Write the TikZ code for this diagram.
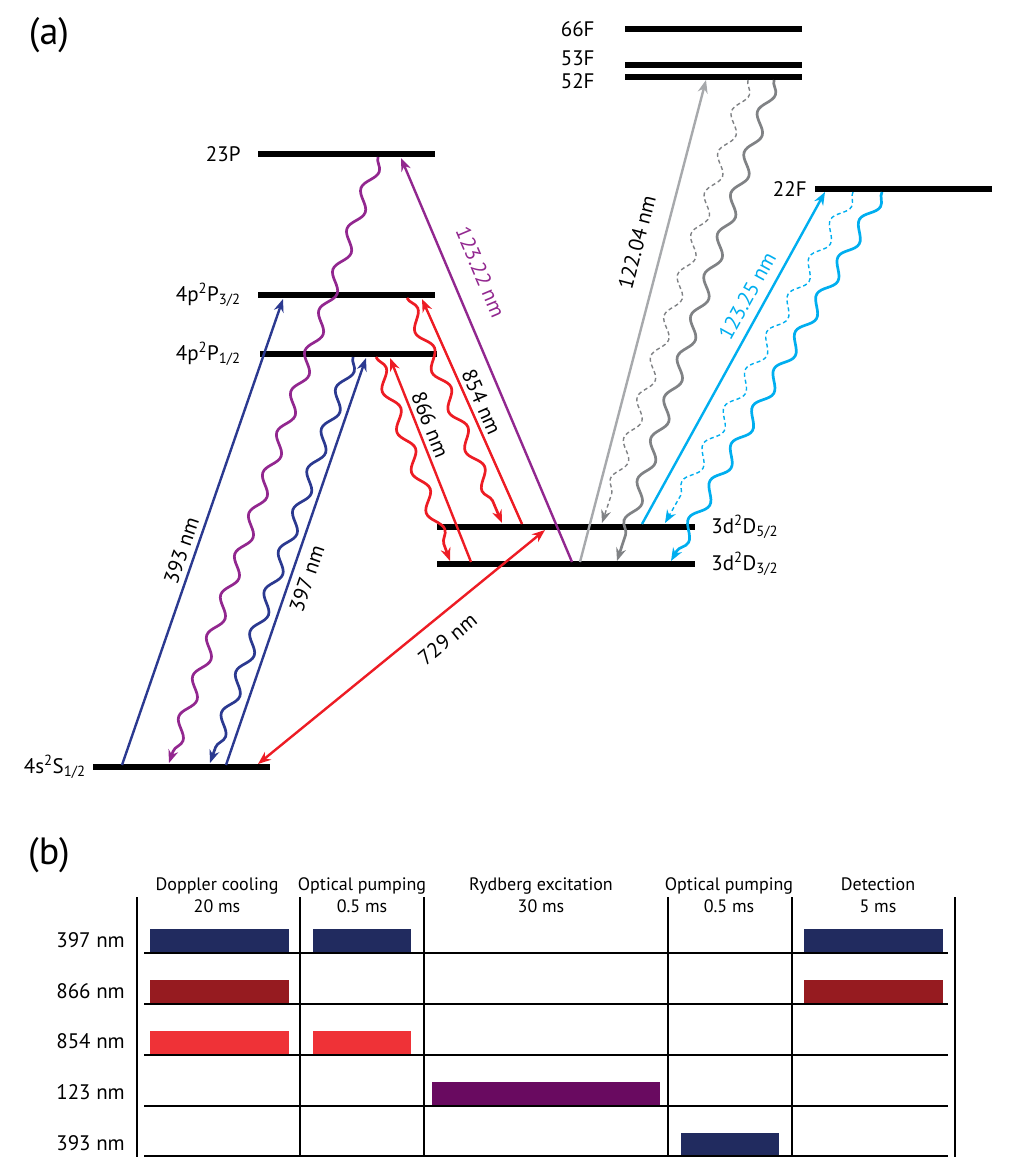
\documentclass[tikz,border=0pt]{standalone}
\usepackage{fontspec}
\setmainfont{PT Sans}
\usetikzlibrary{positioning,arrows.meta,decorations.pathmorphing}

\definecolor{dblue}{RGB}{43,57,144}
\definecolor{purp}{RGB}{146,39,143}
\definecolor{lred}{RGB}{237,28,36}
\definecolor{lgray}{RGB}{167,169,172}
\definecolor{mgray}{RGB}{128,130,133}
\definecolor{cyanb}{RGB}{0,174,239}
\definecolor{navy}{RGB}{33,43,95}
\definecolor{wine}{RGB}{150,27,32}
\definecolor{barred}{RGB}{239,50,55}
\definecolor{plum}{RGB}{105,10,96}

\begin{document}
\begin{tikzpicture}[x=1pt, y=-1pt,
  level/.style={fill=black, inner sep=0pt, minimum height=6.5pt, minimum width=177pt},
  lab/.style={font=\fontsize{21}{24}\selectfont, inner sep=0pt},
  wl/.style={font=\fontsize{21}{24}\selectfont, sloped, text=black, inner sep=5pt},
  arr/.style={-{Stealth[length=13pt,width=10pt]}, line width=2.4pt},
  wavy/.style={-{Stealth[length=13pt,width=10pt]}, line width=2.7pt, decorate,
    decoration={snake, amplitude=6pt, segment length=43pt, post length=11pt}},
  dwavy/.style={wavy, line width=1.4pt, dash pattern=on 4pt off 3pt},
  hdr/.style={font=\fontsize{18}{22}\selectfont, align=center},
  grid/.style={line width=2.2pt}
]
\useasboundingbox (0,0) rectangle (1009,1171);

% (a) level scheme
\node[font=\fontsize{38}{42}\selectfont] (pa) at (49,35) {(a)};
\node[level] (f66) at (713.5,29) {};
\node[level] (f53) at (713.5,65) {};
\node[level] (f52) at (713.5,77) {};
\node[level] (f22) at (903.5,189) {};
\node[level] (p23) at (346.5,154) {};
\node[level] (p32) at (346.5,295) {};
\node[level] (p12) at (348.5,354) {};
\node[level, minimum width=258pt] (d52) at (566,527) {};
\node[level, minimum width=258pt] (d32) at (566,564) {};
\node[level] (s12) at (181.5,767) {};

\node[lab, left=30pt of f66] (l66) {66F};
\node[lab, left=30pt of f53, yshift=7pt] (l53) {53F};
\node[lab, left=30pt of f52, yshift=-4pt] (l52) {52F};
\node[lab, left=8pt of f22] (l22) {22F};
\node[lab, left=17pt of p23] (l23) {23P};
\node[lab, left=17pt of p32] (lp32) {4p\textsuperscript{2}P\textsubscript{3/2}};
\node[lab, left=19pt of p12] (lp12) {4p\textsuperscript{2}P\textsubscript{1/2}};
\node[lab, right=16pt of d52] (ld52) {3d\textsuperscript{2}D\textsubscript{5/2}};
\node[lab, right=16pt of d32] (ld32) {3d\textsuperscript{2}D\textsubscript{3/2}};
\node[lab, left=7pt of s12] (ls12) {4s\textsuperscript{2}S\textsubscript{1/2}};

% end points on the levels
\coordinate (s393) at (122,765);   \coordinate (p393) at (283,299);
\coordinate (s397) at (226,765);   \coordinate (p397) at (366,358);
\coordinate (p23e) at (378,157);   \coordinate (s23e) at (169,763);
\coordinate (p12e) at (353,357);   \coordinate (s12e) at (210,763);
\coordinate (p12r) at (376,357);   \coordinate (d32r) at (450,561);
\coordinate (d866) at (471,562);   \coordinate (p866) at (390,358);
\coordinate (p32r) at (407,298);   \coordinate (d52r) at (502,523);
\coordinate (d854) at (522,524);   \coordinate (p854) at (422,299);
\coordinate (d123) at (572,562);   \coordinate (p123) at (401,158);
\coordinate (s729) at (258,764);   \coordinate (d729) at (545,530);
\coordinate (d122) at (580,562);   \coordinate (f122) at (706,80);
\coordinate (f52a) at (748,80);    \coordinate (d52a) at (602,523);
\coordinate (f52b) at (774,80);    \coordinate (d32b) at (617,561);
\coordinate (d125) at (642,524);   \coordinate (f125) at (825,192);
\coordinate (f22a) at (853,192);   \coordinate (d52c) at (665,523);
\coordinate (f22b) at (882,192);   \coordinate (d32c) at (671,561);

\draw[wavy, purp] (p23e) -- (s23e);
\draw[wavy, dblue] (p12e) -- (s12e);
\draw[wavy, lred] (p12r) -- (d32r);
\draw[wavy, lred] (p32r) -- (d52r);
\draw[dwavy, mgray] (f52a) -- (d52a);
\draw[wavy, mgray] (f52b) -- (d32b);
\draw[dwavy, cyanb] (f22a) -- (d52c);
\draw[wavy, cyanb] (f22b) -- (d32c);

\draw[arr, dblue] (s393) -- node[wl, above, pos=0.45] {393 nm} (p393);
\draw[arr, dblue] (s397) -- node[wl, below, pos=0.47, inner sep=7pt] {397 nm} (p397);
\draw[arr, lred] (d866) -- node[wl, above, pos=0.65, inner sep=4pt] {866 nm} (p866);
\draw[arr, lred] (d854) -- node[wl, above, pos=0.52, inner sep=4pt] {854 nm} (p854);
\draw[arr, purp] (d123) -- node[wl, above, pos=0.69, inner sep=20pt, text=purp] {123.22 nm} (p123);
\draw[{Stealth[length=13pt,width=10pt]}-{Stealth[length=13pt,width=10pt]}, line width=2.4pt, lred]
  (s729) -- node[wl, below, pos=0.61, inner sep=14pt] {729 nm} (d729);
\draw[arr, lgray] (d122) -- node[wl, above, pos=0.65, inner sep=17pt] {122.04 nm} (f122);
\draw[arr, cyanb] (d125) -- node[wl, above, pos=0.66, inner sep=9pt, text=cyanb] {123.25 nm} (f125);

% (b) pulse sequence
\node[font=\fontsize{38}{42}\selectfont] (pb) at (49,855) {(b)};
\node[hdr] (h1) at (217,895) {Doppler cooling\\20 ms};
\node[hdr] (h2) at (362,895) {Optical pumping\\0.5 ms};
\node[hdr] (h3) at (541,895) {Rydberg excitation\\30 ms};
\node[hdr] (h4) at (729,895) {Optical pumping\\0.5 ms};
\node[hdr] (h5) at (878,895) {Detection\\5 ms};
\node[lab, anchor=east] (r397) at (125,940) {397 nm};
\node[lab, anchor=east] (r866) at (125,991) {866 nm};
\node[lab, anchor=east] (r854) at (125,1041) {854 nm};
\node[lab, anchor=east] (r123) at (125,1092) {123 nm};
\node[lab, anchor=east] (r393) at (125,1143) {393 nm};

\fill[navy] (150,929) rectangle (289,952);
\fill[navy] (313,929) rectangle (411,952);
\fill[navy] (804,929) rectangle (943,952);
\fill[wine] (150,980) rectangle (289,1003);
\fill[wine] (804,980) rectangle (943,1003);
\fill[barred] (150,1031) rectangle (289,1054);
\fill[barred] (313,1031) rectangle (411,1054);
\fill[plum] (432,1082) rectangle (660,1105);
\fill[navy] (681,1133) rectangle (779,1155);

\foreach \yy in {953,1004,1055,1106,1156}
  \draw[grid] (144,\yy) -- (948,\yy);
\foreach \xx in {137,300,424,668,792,955}
  \draw[grid] (\xx,897) -- (\xx,1157);
\end{tikzpicture}
\end{document}
